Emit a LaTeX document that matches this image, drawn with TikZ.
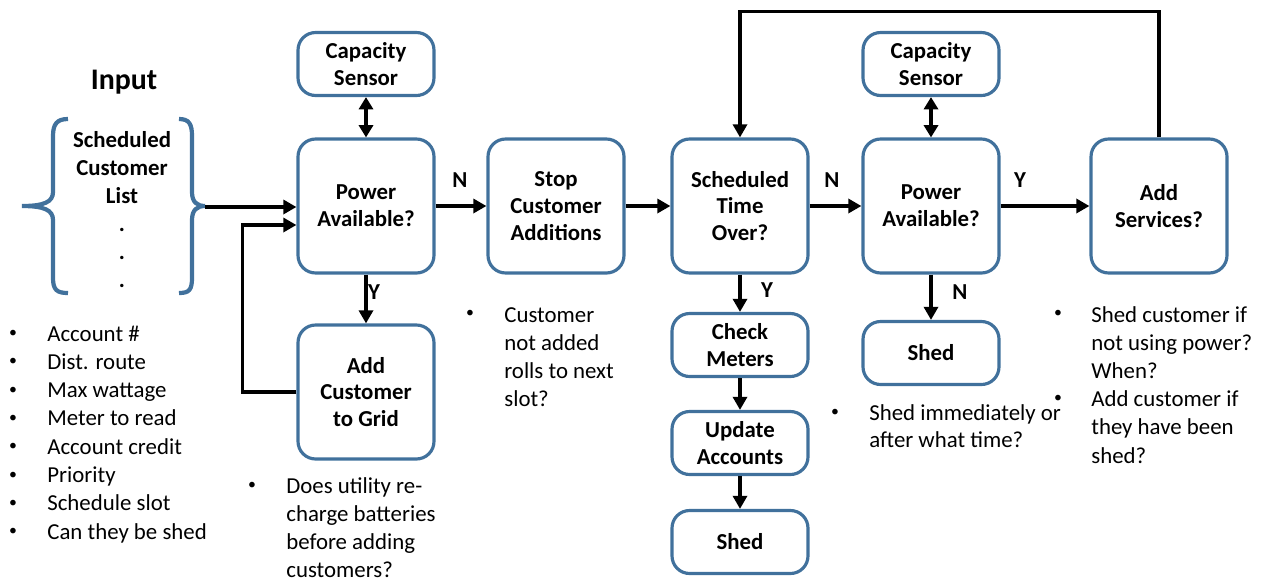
\documentclass[tikz,border=0pt]{standalone}
\usepackage{fontspec}
\setmainfont{Carlito}
\usetikzlibrary{arrows.meta,calc}
\definecolor{boxblue}{RGB}{65,113,156}

\begin{document}
\begin{tikzpicture}[x=0.02cm,y=-0.02cm,
    box/.style={draw=boxblue,line width=1.8pt,rounded corners=10pt,align=center,
      minimum width=2.72cm,inner sep=2pt,font=\fontsize{13}{15.3}\selectfont\bfseries},
    tall/.style={box,minimum height=2.68cm},
    short/.style={box,minimum height=1.26cm},
    flow/.style={line width=1.9pt,-{Triangle[length=7.5pt,width=8pt]}},
    both/.style={line width=1.9pt,{Triangle[length=7pt,width=8pt]}-{Triangle[length=7pt,width=8pt]}},
    tag/.style={font=\fontsize{13}{15}\selectfont\bfseries},
    note/.style={anchor=base west,inner sep=0pt,font=\fontsize{13}{16}\selectfont},
    dot/.style={anchor=center,inner sep=0pt,font=\fontsize{9}{9}\selectfont}]
  \useasboundingbox (0,0) rectangle (1267,582);

  % input list
  \node[font=\fontsize{17}{20}\selectfont\bfseries] (input) at (124,82) {Input};
  \node[align=center,font=\fontsize{13}{16}\selectfont\bfseries,anchor=north,inner sep=0pt]
    (list) at (122,131) {Scheduled\\Customer\\List\\.\\.\\.};
  \draw[boxblue,line width=2.4pt] (68,119) .. controls (57,119) and (53,124) .. (53,136)
    -- (53,192) .. controls (53,202) and (44,206) .. (22,206)
    .. controls (44,206) and (53,210) .. (53,220) -- (53,278)
    .. controls (53,290) and (57,293) .. (68,293);
  \draw[boxblue,line width=2.4pt] (179,119) .. controls (189,119) and (192,124) .. (192,136)
    -- (192,192) .. controls (192,202) and (197,206) .. (205,206)
    .. controls (197,206) and (192,210) .. (192,220) -- (192,278)
    .. controls (192,290) and (189,293) .. (179,293);
  \coordinate (brace) at (205,207);

  % blocks
  \node[short] (cap1) at (366,64) {Capacity\\Sensor};
  \node[tall] (pa1) at (366,206) {Power\\Available?};
  \node[tall] (grid) at (366,392) {Add\\Customer\\to Grid};
  \node[tall] (stop) at (556,206) {Stop\\Customer\\Additions};
  \node[tall] (time) at (740,206) {Scheduled\\Time\\Over?};
  \node[short] (check) at (740,345) {Check\\Meters};
  \node[short] (update) at (740,443) {Update\\Accounts};
  \node[short] (shed1) at (740,542) {Shed};
  \node[short] (cap2) at (931,64) {Capacity\\Sensor};
  \node[tall] (pa2) at (931,206) {Power\\Available?};
  \node[short] (shed2) at (931,353) {Shed};
  \node[tall] (serv) at (1159,206) {Add\\Services?};

  % connectors
  \draw[flow] (brace) -- (pa1.west |- brace);
  \draw[flow] (grid.west) -- ++(-54,0) |- ($(pa1.west)+(0,19)$);
  \draw[both] (cap1) -- (pa1);
  \draw[flow] (pa1) -- (stop);
  \draw[flow] (pa1) -- (grid);
  \draw[flow] (stop) -- (time);
  \draw[flow] (time) -- (pa2);
  \draw[both] (cap2) -- (pa2);
  \draw[flow] (pa2) -- (serv);
  \draw[flow] (serv.north) -- ++(0,-126) -| (time.north);
  \draw[flow] (time) -- (check);
  \draw[flow] (check) -- (update);
  \draw[flow] (update) -- (shed1);
  \draw[flow] (pa2) -- (shed2);

  \node[tag] (n1) at (460,180) {N};
  \node[tag] (y1) at (374,292) {Y};
  \node[tag] (n2) at (832,180) {N};
  \node[tag] (y2) at (1020,180) {Y};
  \node[tag] (y3) at (767,290) {Y};
  \node[tag] (n3) at (960,292) {N};

  % notes
  \foreach \t [count=\i from 0] in {Account \#,Dist. route,Max wattage,Meter to read,
      Account credit,Priority,Schedule slot,Can they be shed} {
    \node[dot] at (13,{334+28.3*\i}) {\textbullet};
    \node[note] at (47,{341+28.3*\i}) {\t};
  }
  \node[dot] at (252,486) {\textbullet};
  \foreach \t [count=\i from 0] in {Does utility re-,charge batteries,before adding,customers?}
    \node[note] at (286,{493+28*\i}) {\t};
  \node[dot] at (470,314) {\textbullet};
  \foreach \t [count=\i from 0] in {Customer,not added,rolls to next,slot?}
    \node[note] at (504,{322+28*\i}) {\t};
  \node[dot] at (835,413) {\textbullet};
  \foreach \t [count=\i from 0] in {Shed immediately or,after what time?}
    \node[note] at (869,{420+27*\i}) {\t};
  \node[dot] at (1058,314) {\textbullet};
  \node[dot] at (1058,399) {\textbullet};
  \foreach \t [count=\i from 0] in {Shed customer if,not using power?,When?,
      Add customer if,they have been,shed?}
    \node[note] at (1091,{322+28.2*\i}) {\t};
\end{tikzpicture}
\end{document}
